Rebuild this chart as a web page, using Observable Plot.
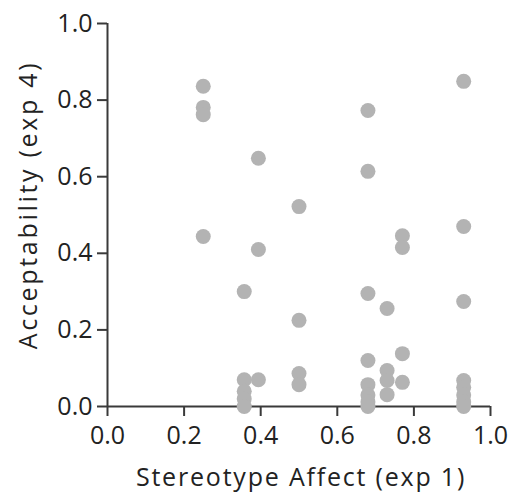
<!DOCTYPE html>
<html>
<head>
<meta charset="utf-8">
<script src="https://cdn.jsdelivr.net/npm/d3@7"></script>
<script src="https://cdn.jsdelivr.net/npm/@observablehq/plot@0.6"></script>
<style>
  html, body { margin: 0; padding: 0; background: #fff; }
</style>
</head>
<body>
<div id="chart"></div>
<script>
const stereotypeAffect = [
  0.25, 0.25, 0.25, 0.25,
  0.357, 0.357, 0.357, 0.357, 0.357,
  0.394, 0.394, 0.394,
  0.50, 0.50, 0.50, 0.50,
  0.68, 0.68, 0.68, 0.68, 0.68, 0.68, 0.68, 0.68,
  0.73, 0.73, 0.73, 0.73,
  0.77, 0.77, 0.77, 0.77,
  0.93, 0.93, 0.93, 0.93, 0.93, 0.93, 0.93, 0.93
];
const acceptability = [
  0.836, 0.781, 0.762, 0.444,
  0.30, 0.07, 0.04, 0.02, 0.0,
  0.648, 0.41, 0.07,
  0.522, 0.225, 0.086, 0.057,
  0.773, 0.614, 0.295, 0.12, 0.057, 0.03, 0.012, 0.0,
  0.256, 0.094, 0.068, 0.031,
  0.446, 0.415, 0.138, 0.063,
  0.849, 0.47, 0.274, 0.068, 0.05, 0.03, 0.012, 0.0
];
const ticks = [0, 0.2, 0.4, 0.6, 0.8, 1.0];
const xLabel = "Stereotype Affect (exp 1)";
const yLabel = "Acceptability (exp 4)";

const data = stereotypeAffect.map((x, i) => ({x, y: acceptability[i]}));

const fontFamily = "'Open Sans', sans-serif";
const axisColor = "#3a3a3a";
const textColor = "#222";

const chart = Plot.plot({
  width: 509,
  height: 492,
  marginLeft: 107,
  marginRight: 19,
  marginTop: 23,
  marginBottom: 86,
  style: {fontFamily, fontSize: "25px", color: textColor, background: "#fff"},
  x: {domain: [0, 1]},
  y: {domain: [0, 1]},
  marks: [
    Plot.axisX({ticks, tickSize: 10, tickPadding: 10, tickFormat: d3.format(".1f"),
      stroke: axisColor, strokeWidth: 2, strokeOpacity: 1, fontSize: 25, fill: textColor, label: null}),
    Plot.axisY({ticks, tickSize: 10, tickPadding: 5, tickFormat: d3.format(".1f"),
      stroke: axisColor, strokeWidth: 2, strokeOpacity: 1, fontSize: 25, fill: textColor, label: null}),
    Plot.text([xLabel], {frameAnchor: "bottom", dy: 79, dx: 2, fontSize: 25, fill: textColor,
      textAnchor: "middle"}),
    Plot.text([yLabel], {frameAnchor: "left", rotate: -90, dx: -79, dy: -10,
      fontSize: 25, fill: textColor, textAnchor: "middle"}),
    Plot.ruleX([0], {stroke: axisColor, strokeWidth: 2}),
    Plot.ruleY([0], {stroke: axisColor, strokeWidth: 2}),
    Plot.dot(data, {x: "x", y: "y", r: 7.5, fill: "#b3b3b3", stroke: "none"})
  ]
});
chart.querySelectorAll("text").forEach(t => {
  const s = t.textContent;
  if (s === xLabel) t.setAttribute("letter-spacing", "1.8");
  if (s === yLabel) t.setAttribute("letter-spacing", "2.7");
});
document.getElementById("chart").appendChild(chart);
</script>
</body>
</html>
